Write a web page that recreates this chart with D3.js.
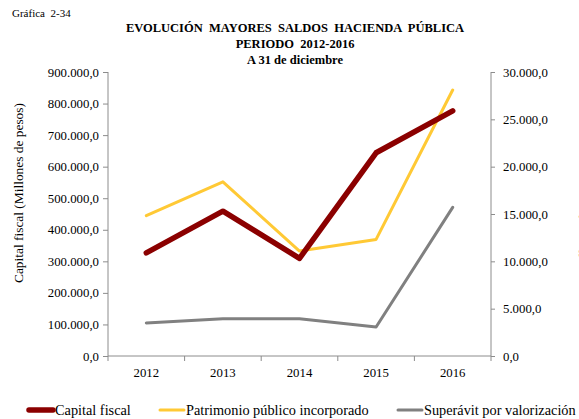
<!DOCTYPE html>
<html>
<head>
<meta charset="utf-8">
<script src="https://cdn.jsdelivr.net/npm/d3@7"></script>
<style>
  body { margin: 0; background: #fff; }
  .axis path, .axis line { stroke: #8c8c8c; }
</style>
</head>
<body>
<svg id="chart" width="579" height="419" style="font-family:'Liberation Serif'"></svg>
<script>
const years = ["2012", "2013", "2014", "2015", "2016"];
// left axis (millones de pesos)
const capitalFiscal = [327000, 459000, 309500, 644000, 777000];
const patrimonio = [444500, 552000, 332500, 369500, 843000];
// right axis
const superavit = [3490, 3940, 3940, 3060, 15700];

const leftTicks = d3.range(0, 900001, 100000);
const rightTicks = d3.range(0, 30001, 5000);

const svg = d3.select("#chart");
const margin = {left: 108, right: 88, top: 72, bottom: 63};
const width = 579 - margin.left - margin.right;
const height = 419 - margin.top - margin.bottom;
const serif = "Liberation Serif";

const fmt = v => {
    const s = d3.format(",.1f")(v);
    return s.replace(/,/g, "#").replace(".", ",").replace(/#/g, ".");
};

const x = d3.scaleBand().domain(years).range([0, width]);
const yLeft = d3.scaleLinear().domain([0, 900000]).range([height, 0]);
const yRight = d3.scaleLinear().domain([0, 30000]).range([height, 0]);

const g = svg.append("g").attr("transform", `translate(${margin.left},${margin.top})`);

// x axis with ticks at band boundaries
const xAxis = g.append("g").attr("class", "axis")
    .attr("transform", `translate(0,${height})`);
xAxis.append("line").attr("x1", 0).attr("x2", width).attr("y1", 0).attr("y2", 0);
xAxis.selectAll("line.tick")
    .data(d3.range(years.length + 1))
    .enter().append("line")
    .attr("class", "tick")
    .attr("x1", i => i * x.bandwidth()).attr("x2", i => i * x.bandwidth())
    .attr("y1", 0).attr("y2", 5);
xAxis.selectAll("text")
    .data(years)
    .enter().append("text")
    .attr("x", d => x(d) + x.bandwidth() / 2)
    .attr("y", 21)
    .attr("text-anchor", "middle")
    .text(d => d);

// left axis
g.append("g").attr("class", "axis")
    .call(d3.axisLeft(yLeft).tickValues(leftTicks).tickSize(5).tickPadding(4).tickFormat(fmt))
    .call(a => a.select(".domain").attr("d", `M0,0V${height}`));

// right axis
g.append("g").attr("class", "axis")
    .attr("transform", `translate(${width},0)`)
    .call(d3.axisRight(yRight).tickValues(rightTicks).tickSize(4).tickPadding(8).tickFormat(fmt))
    .call(a => a.select(".domain").attr("d", `M0,0V${height}`));

g.selectAll(".axis").attr("font-family", serif).attr("font-size", 12.8);
g.selectAll(".axis text").attr("fill", "#000");

// lines
const cx = d => x(d) + x.bandwidth() / 2;
const series = [
    {values: superavit, scale: yRight, color: "#808080", w: 3},
    {values: patrimonio, scale: yLeft, color: "#ffc935", w: 3},
    {values: capitalFiscal, scale: yLeft, color: "#8b0000", w: 5.5}
];
series.forEach(s => {
    const line = d3.line()
        .x((d, i) => cx(years[i]))
        .y(d => s.scale(d));
    g.append("path")
        .datum(s.values)
        .attr("fill", "none")
        .attr("stroke", s.color)
        .attr("stroke-width", s.w)
        .attr("stroke-linejoin", "round")
        .attr("stroke-linecap", "round")
        .attr("d", line);
});

// axis titles
svg.append("text")
    .attr("transform", "translate(23,193) rotate(-90)")
    .attr("text-anchor", "middle")
    .attr("font-size", 13.4)
    .text("Capital fiscal (Millones de pesos)");
svg.append("text")
    .attr("transform", "translate(588,224) rotate(-90)")
    .attr("text-anchor", "middle")
    .attr("font-size", 13.4)
    .text("Millones de pesos");

// titles
svg.append("text").attr("x", 12).attr("y", 17)
    .attr("font-size", 11).style("white-space", "pre").text("Gráfica  2-34");
const titleLines = ["EVOLUCIÓN  MAYORES  SALDOS  HACIENDA  PÚBLICA", "PERIODO  2012-2016", "A 31 de diciembre"];
svg.selectAll("text.title")
    .data(titleLines)
    .enter().append("text")
    .attr("class", "title")
    .attr("x", 295)
    .attr("y", (d, i) => 32 + i * 16)
    .attr("text-anchor", "middle")
    .attr("font-size", 12.5)
    .attr("font-weight", "bold")
    .style("white-space", "pre")
    .text(d => d);

// legend
const legendItems = [
    {label: "Capital fiscal", color: "#8b0000", w: 5.5, x: 29},
    {label: "Patrimonio público incorporado", color: "#ffc935", w: 3, x: 160},
    {label: "Superávit por valorización", color: "#808080", w: 3, x: 398}
];
const legend = svg.append("g").attr("transform", "translate(0,410)");
legendItems.forEach(it => {
    legend.append("line")
        .attr("x1", it.x).attr("x2", it.x + 24)
        .attr("y1", 0).attr("y2", 0)
        .attr("stroke", it.color).attr("stroke-width", it.w)
        .attr("stroke-linecap", "round");
    legend.append("text")
        .attr("x", it.x + 26).attr("y", 5)
        .attr("font-size", 14.3)
        .text(it.label);
});

svg.selectAll("text").attr("font-family", serif);
</script>
</body>
</html>
